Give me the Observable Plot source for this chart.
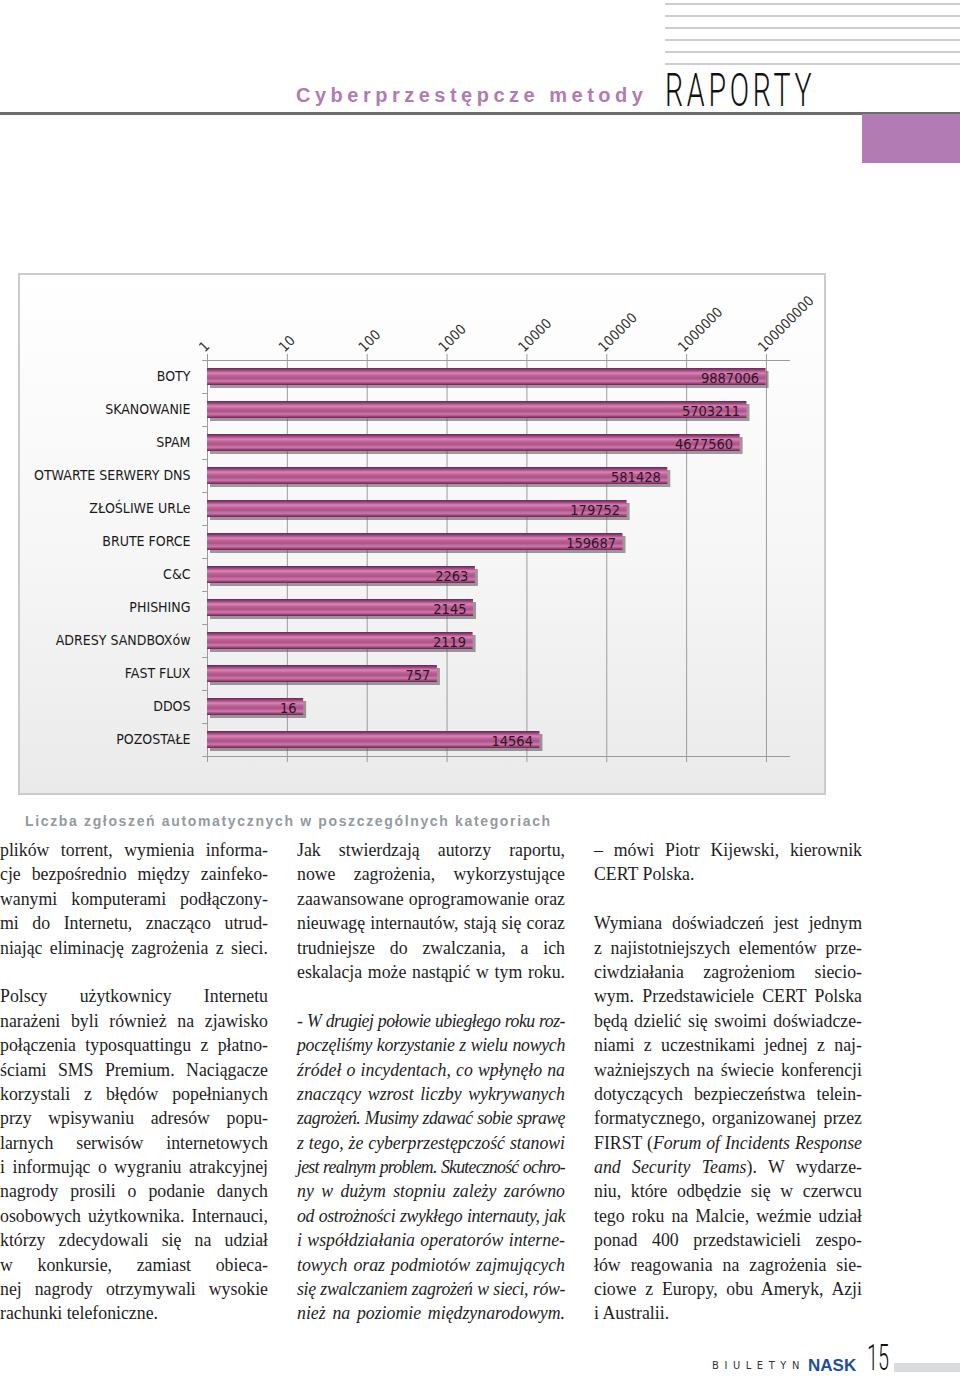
<!DOCTYPE html>
<html><head><meta charset="utf-8">
<script src="https://cdn.jsdelivr.net/npm/d3@7"></script>
<script src="https://cdn.jsdelivr.net/npm/@observablehq/plot@0.6"></script>
<style>
html,body{margin:0;padding:0;background:#fff;}
#page{position:relative;width:960px;height:1378px;overflow:hidden;background:#fff;}
.hline{position:absolute;left:665px;width:295px;height:2px;background:#cdcdcd;}
#title{position:absolute;left:296px;top:84px;font:bold 20px "Liberation Sans",Arial,sans-serif;color:#b27bb2;letter-spacing:4.5px;white-space:nowrap;}
#raporty{position:absolute;left:665px;top:63px;font:300 46px Roboto,"Liberation Sans",sans-serif;color:#111;letter-spacing:6px;white-space:nowrap;transform:scaleX(0.62);transform-origin:0 0;}
#darkline{position:absolute;left:0;top:112px;width:960px;height:3px;background:#6d6d6d;}
#purple{position:absolute;left:862px;top:114px;width:98px;height:49px;background:#b27bb3;}
#box{position:absolute;left:18px;top:273px;width:808px;height:522px;box-sizing:border-box;border:2px solid #cbcbcb;background:linear-gradient(#ffffff 0%,#f6f6f6 55%,#eaeaea 100%);}
#chart{position:absolute;left:18px;top:273px;}
#caption{position:absolute;left:25px;top:813px;font:bold 14px "Liberation Sans",Arial,sans-serif;color:#939aa0;letter-spacing:1.65px;white-space:nowrap;}
.col{position:absolute;top:838px;width:268px;font-family:"Liberation Serif","Times New Roman",serif;font-size:17.8px;line-height:24.4px;color:#1e1e1e;}
.ln{height:24.4px;white-space:nowrap;}
#foot1{position:absolute;left:712px;top:1359px;font:11px "Liberation Sans Narrow","DejaVu Sans Condensed",sans-serif;letter-spacing:5.6px;color:#333;white-space:nowrap;}
#nask{position:absolute;left:808px;top:1356px;font:900 17px "Liberation Sans",Arial,sans-serif;color:#1d4f9d;white-space:nowrap;}
#num{position:absolute;left:866px;top:1328px;}
</style></head>
<body><div id="page">
<div class="hline" style="top:3px"></div>
<div class="hline" style="top:15px"></div>
<div class="hline" style="top:27px"></div>
<div class="hline" style="top:39px"></div>
<div class="hline" style="top:51px"></div>
<div class="hline" style="top:63px"></div>
<div id="title">Cyberprzestępcze metody</div>
<div id="raporty">RAPORTY</div>
<div id="darkline"></div>
<div id="purple"></div>
<div id="box"></div>
<div id="chart"></div>
<div id="caption">Liczba zgłoszeń automatycznych w poszczególnych kategoriach</div>
<div class="col" id="c1" style="left:0px"></div>
<div class="col" id="c2" style="left:297px"></div>
<div class="col" id="c3" style="left:594px"></div>
<div id="foot1">BIULETYN</div>
<div id="nask">NASK</div>
<svg id="num" width="94" height="50"><rect x="28" y="35" width="66" height="9" fill="#d9dbdd"></rect><text x="1" y="42" textLength="22" lengthAdjust="spacingAndGlyphs" font-family="Roboto, 'Liberation Sans', sans-serif" font-weight="300" font-size="36" fill="#111">15</text></svg>
</div>
<script>
// ---- chart data ----
const categories = ["BOTY","SKANOWANIE","SPAM","OTWARTE SERWERY DNS","ZŁOŚLIWE URLe","BRUTE FORCE","C&C","PHISHING","ADRESY SANDBOXów","FAST FLUX","DDOS","POZOSTAŁE"];
const values = [9887006,5703211,4677560,581428,179752,159687,2263,2145,2119,757,16,14564];
const tickValues = [1,10,100,1000,10000,100000,1000000,10000000];
const tickLabels = ["1","10","100","1000","10000","100000","1000000","100000000"];

const data = categories.map((c,i)=>({category:c, value:values[i]}));
const condensed = '"Liberation Sans Narrow","Arial Narrow","DejaVu Sans Condensed",sans-serif';
const xMax = 2e7;

const chart = Plot.plot({
  width: 808, height: 522,
  marginLeft: 189, marginRight: 36, marginTop: 87, marginBottom: 39,
  style: {background: "transparent", fontFamily: condensed, overflow: "visible", color: "#222"},
  x: {type: "log", domain: [1, xMax]},
  y: {domain: categories, padding: 0},
  marks: [
    Plot.ruleX(tickValues, {stroke: "#9c9c9c", strokeWidth: 1, insetTop: -6, insetBottom: -6}),
    Plot.ruleY([categories[0]], {y: d=>d, dy: -16.5, x1: 1, x2: xMax, stroke: "#9c9c9c"}),
    Plot.ruleY([categories[categories.length-1]], {y: d=>d, dy: 16.5, x1: 1, x2: xMax, stroke: "#9c9c9c"}),
    Plot.ruleY(categories, {y: d=>d, dy: -16.5, x1: 0.87, x2: 1, stroke: "#9c9c9c"}),
    Plot.ruleY([categories[categories.length-1]], {y: d=>d, dy: 16.5, x1: 0.87, x2: 1, stroke: "#9c9c9c"}),
    Plot.barX(data, {y: "category", x1: 1, x2: "value", insetTop: 8, insetBottom: 8, dx: 3, dy: 3, fill: "#5a5a5a", fillOpacity: 0.6, ariaLabel: "shadow"}),
    Plot.barX(data, {y: "category", x1: 1, x2: "value", insetTop: 8, insetBottom: 8, fill: "url(#barGrad)", ariaLabel: "bars"}),
    Plot.text(data, {y: "category", x: "value", text: d => String(d.value), textAnchor: "end", dx: -7, dy: 1, fill: "#2e1526", fontSize: 14.5}),
    Plot.axisY({tickSize: 0, tickPadding: 17, fontSize: 14, fill: "#1a1a1a", label: null}),
    Plot.axisX({anchor: "top", ticks: tickValues, tickSize: 0, tickPadding: 11, dx: -6, tickRotate: -45, tickFormat: d => tickLabels[tickValues.indexOf(d)], fontSize: 14, fill: "#333", label: null})
  ]
});
document.getElementById("chart").appendChild(chart);
const svg = d3.select(chart);
const defs = svg.insert("defs", ":first-child");
const grad = defs.append("linearGradient").attr("id","barGrad").attr("x1",0).attr("y1",0).attr("x2",0).attr("y2",1);
[[0,"#6a2553"],[0.12,"#98407a"],[0.3,"#d886b6"],[0.45,"#bd6195"],[0.6,"#ad5288"],[0.78,"#cc7aab"],[0.92,"#953f74"],[1,"#66234f"]]
  .forEach(([o,c]) => grad.append("stop").attr("offset",o).attr("stop-color",c));
const filt = defs.append("filter").attr("id","blur").attr("x","-10%").attr("y","-60%").attr("width","120%").attr("height","220%");
filt.append("feGaussianBlur").attr("stdDeviation",2);
svg.select('g[aria-label="shadow"]').attr("filter","url(#blur)");

// ---- body text ----
const col1 = [
  ["plików torrent, wymienia informa-", "j"],
  ["cje bezpośrednio między zainfeko-", "j"],
  ["wanymi komputerami podłączony-", "j"],
  ["mi do Internetu, znacząco utrud-", "j"],
  ["niając eliminację zagrożenia z sieci.", "j"],
  null,
  ["Polscy użytkownicy Internetu", "j"],
  ["narażeni byli również na zjawisko", "j"],
  ["połączenia typosquattingu z płatno-", "j"],
  ["ściami SMS Premium. Naciągacze", "j"],
  ["korzystali z błędów popełnianych", "j"],
  ["przy wpisywaniu adresów popu-", "j"],
  ["larnych serwisów internetowych", "j"],
  ["i informując o wygraniu atrakcyjnej", "j"],
  ["nagrody prosili o podanie danych", "j"],
  ["osobowych użytkownika. Internauci,", "j"],
  ["którzy zdecydowali się na udział", "j"],
  ["w konkursie, zamiast obieca-", "j"],
  ["nej nagrody otrzymywali wysokie", "j"],
  ["rachunki telefoniczne.", "l"]
];
const col2 = [
  ["Jak stwierdzają autorzy raportu,", "j"],
  ["nowe zagrożenia, wykorzystujące", "j"],
  ["zaawansowane oprogramowanie oraz", "j"],
  ["nieuwagę internautów, stają się coraz", "j"],
  ["trudniejsze do zwalczania, a ich", "j"],
  ["eskalacja może nastąpić w tym roku.", "j"],
  null,
  ["<i>- W drugiej połowie ubiegłego roku roz-</i>", "j"],
  ["<i>poczęliśmy korzystanie z wielu nowych</i>", "j"],
  ["<i>źródeł o incydentach, co wpłynęło na</i>", "j"],
  ["<i>znaczący wzrost liczby wykrywanych</i>", "j"],
  ["<i>zagrożeń. Musimy zdawać sobie sprawę</i>", "j"],
  ["<i>z tego, że cyberprzestępczość stanowi</i>", "j"],
  ["<i>jest realnym problem. Skuteczność ochro-</i>", "j"],
  ["<i>ny w dużym stopniu zależy zarówno</i>", "j"],
  ["<i>od ostrożności zwykłego internauty, jak</i>", "j"],
  ["<i>i współdziałania operatorów interne-</i>", "j"],
  ["<i>towych oraz podmiotów zajmujących</i>", "j"],
  ["<i>się zwalczaniem zagrożeń w sieci, rów-</i>", "j"],
  ["<i>nież na poziomie międzynarodowym.</i>", "j"]
];
const col3 = [
  ["– mówi Piotr Kijewski, kierownik", "j"],
  ["CERT Polska.", "l"],
  null,
  ["Wymiana doświadczeń jest jednym", "j"],
  ["z najistotniejszych elementów prze-", "j"],
  ["ciwdziałania zagrożeniom siecio-", "j"],
  ["wym. Przedstawiciele CERT Polska", "j"],
  ["będą dzielić się swoimi doświadcze-", "j"],
  ["niami z uczestnikami jednej z naj-", "j"],
  ["ważniejszych na świecie konferencji", "j"],
  ["dotyczących bezpieczeństwa telein-", "j"],
  ["formatycznego, organizowanej przez", "j"],
  ["FIRST (<i>Forum of Incidents Response</i>", "j"],
  ["<i>and Security Teams</i>). W wydarze-", "j"],
  ["niu, które odbędzie się w czerwcu", "j"],
  ["tego roku na Malcie, weźmie udział", "j"],
  ["ponad 400 przedstawicieli zespo-", "j"],
  ["łów reagowania na zagrożenia sie-", "j"],
  ["ciowe z Europy, obu Ameryk, Azji", "j"],
  ["i Australii.", "l"]
];
function fill(id, lines){
  const el = document.getElementById(id);
  const W = 268;
  lines.forEach(l => {
    const d = document.createElement("div");
    d.className = "ln";
    el.appendChild(d);
    if (!l) return;
    const s = document.createElement("span");
    s.innerHTML = l[0];
    d.appendChild(s);
    if (l[1] !== "j") return;
    const txt = s.textContent;
    const n = (txt.match(/ /g) || []).length;
    if (!n) return;
    let w = s.getBoundingClientRect().width;
    let ws = (W - w) / n;
    if (ws < 0.5) {
      const ls = (W - w - n * 0.5) / (txt.length - 1);
      s.style.letterSpacing = ls + "px";
      w = s.getBoundingClientRect().width;
      ws = (W - w) / n;
    }
    s.style.wordSpacing = ws + "px";
  });
}
fill("c1", col1); fill("c2", col2); fill("c3", col3);
</script>
</body></html>
